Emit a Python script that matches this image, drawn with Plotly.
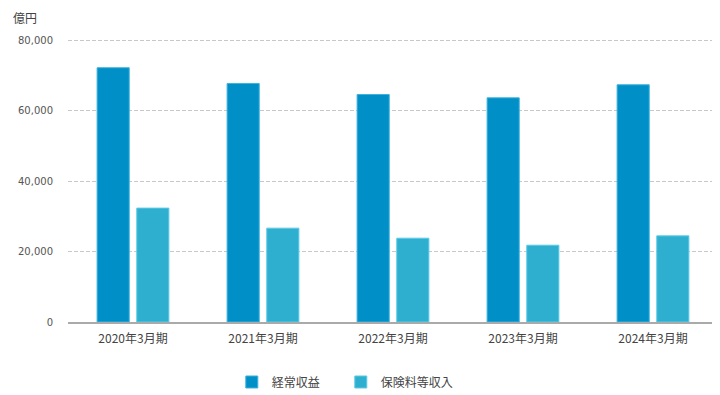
import plotly.graph_objects as go

categories = ["2020年3月期", "2021年3月期", "2022年3月期", "2023年3月期", "2024年3月期"]
ordinary_income = [72150, 67680, 64550, 63610, 67310]
premium_income = [32320, 26630, 23780, 21790, 24440]
series_names = ["経常収益", "保険料等収入"]
y_ticks = [0, 20000, 40000, 60000, 80000]
y_tick_labels = ["0", "20,000", "40,000", "60,000", "80,000"]

fig = go.Figure()
fig.add_trace(go.Bar(x=categories, y=ordinary_income, name=series_names[0], legend="legend",
                     marker=dict(color="#008fc6", line=dict(color="#3fb3dd", width=1))))
fig.add_trace(go.Bar(x=categories, y=premium_income, name=series_names[1], legend="legend2",
                     marker=dict(color="#2eafcf", line=dict(color="#5ccbe6", width=1))))

legend_style = dict(orientation="h", xanchor="left", y=-0.212, yanchor="middle",
                    font=dict(size=12, color="#444444"), itemwidth=30, bgcolor="rgba(0,0,0,0)")

fig.update_layout(
    width=712, height=387,
    margin=dict(l=60, r=2, t=31, b=73, autoexpand=False),
    paper_bgcolor="white", plot_bgcolor="white",
    barmode="group", bargap=0.39, bargroupgap=0.19,
    font=dict(family="Noto Sans CJK JP, sans-serif", size=12, color="#444444"),
    showlegend=True,
    legend=dict(x=0.252, **legend_style),
    legend2=dict(x=0.4197, **legend_style),
    xaxis=dict(showline=True, linecolor="#aaaaaa", linewidth=2, ticks="",
               tickfont=dict(size=12, color="#444444"), showgrid=False,
               ticklabelstandoff=5),
    yaxis=dict(range=[0, 80300], tickvals=y_ticks, ticktext=y_tick_labels,
               showgrid=True, gridcolor="#c8c8c8", griddash="4px,2px", gridwidth=1,
               zeroline=False, ticks="", ticklen=0, ticklabelstandoff=14,
               tickfont=dict(family="DejaVu Sans, Verdana, sans-serif", size=10, color="#555555")),
    annotations=[dict(text="億円", xref="paper", yref="paper", x=-0.086, y=1.1095,
                      xanchor="left", yanchor="top", showarrow=False, borderpad=0,
                      font=dict(size=12, color="#444444"))],
)
fig.write_html("out.html")
